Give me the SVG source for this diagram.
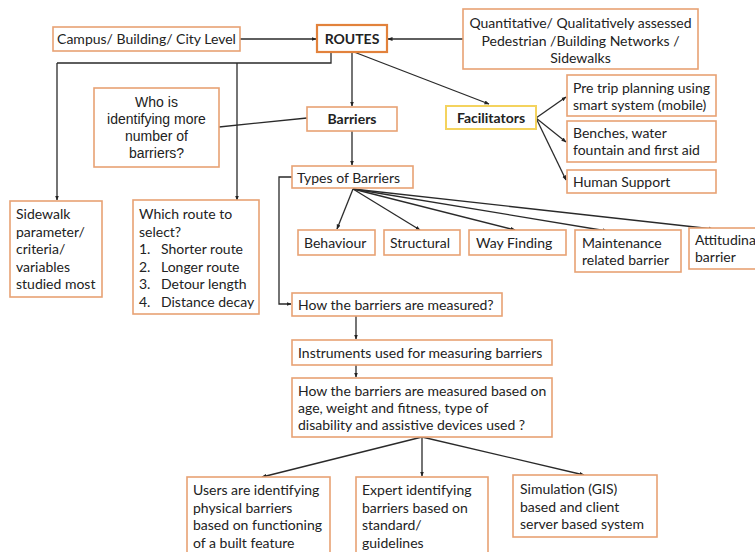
<svg xmlns="http://www.w3.org/2000/svg" width="755" height="552" viewBox="0 0 755 552">
<defs>
<marker id="ah" viewBox="0 0 10 10" refX="9" refY="5" markerWidth="5" markerHeight="5" orient="auto" markerUnits="userSpaceOnUse">
<path d="M0,1 L10,5 L0,9 z" fill="#222"/>
</marker>
<style>
.box{fill:#fff;stroke:#e8a274;stroke-width:1.6}
.rt{fill:#fff;stroke:#e2823c;stroke-width:2.2}
.fac{fill:#fff;stroke:#f4d35e;stroke-width:2}
.t{font-family:Lato,"Liberation Sans",sans-serif;font-size:14px;fill:#222}
.b{font-family:Lato,"Liberation Sans",sans-serif;font-size:14px;font-weight:bold;fill:#222}
.a{font-family:"Liberation Sans",Arial,sans-serif;font-size:14px;fill:#222}
.c{fill:none;stroke:#2a2a2a;stroke-width:1.3}
.ca{fill:none;stroke:#2a2a2a;stroke-width:1.3;marker-end:url(#ah)}
</style>
</defs>
<rect width="755" height="552" fill="#fff"/>
<g id="connectors">
<path class="ca" d="M240,39 H316"/>
<path class="ca" d="M463,39 H388"/>
<path class="c" d="M331,52 V63 H57"/>
<path class="ca" d="M57,63 V200"/>
<path class="ca" d="M237,63 V200"/>
<path class="ca" d="M352,52 V106"/>
<path class="ca" d="M354,52 L489,104"/>
<path class="c" d="M219,127 L307,118"/>
<path class="ca" d="M536,118 L566,97"/>
<path class="ca" d="M536,118 L566,142"/>
<path class="ca" d="M536,118 L566,180"/>
<path class="ca" d="M352,131 V165"/>
<path class="ca" d="M292,177 H279 V304 H291"/>
<path class="ca" d="M353,189 L337,229"/>
<path class="ca" d="M353,189 L420,230"/>
<path class="ca" d="M353,189 L515,230"/>
<path class="ca" d="M353,189 L607,231"/>
<path class="ca" d="M353,189 L713,229"/>
<path class="ca" d="M356,316 V339"/>
<path class="ca" d="M356,365 V377"/>
<path class="ca" d="M422,437 L262,477"/>
<path class="ca" d="M422,437 V476"/>
<path class="ca" d="M422,437 L584,475"/>
</g>
<g id="campus"><rect class="box" x="53" y="27" width="187" height="24"/><text class="t" x="146.5" y="44" text-anchor="middle">Campus/ Building/ City Level</text></g>
<g id="routes"><rect class="rt" x="317" y="25" width="70" height="27"/><text class="b" x="352" y="44" text-anchor="middle" font-size="15.5">ROUTES</text></g>
<g id="quant"><rect class="box" x="463" y="9" width="235" height="60"/>
<text class="t" x="580.5" y="28" text-anchor="middle">Quantitative/ Qualitatively assessed</text>
<text class="t" x="580.5" y="45.5" text-anchor="middle">Pedestrian /Building Networks /</text>
<text class="t" x="580.5" y="62.5" text-anchor="middle">Sidewalks</text></g>
<g id="who"><rect class="box" x="94" y="88" width="125" height="79"/>
<text class="a" x="156.5" y="107" text-anchor="middle">Who is</text>
<text class="a" x="156.5" y="124" text-anchor="middle">identifying more</text>
<text class="a" x="156.5" y="141" text-anchor="middle">number of</text>
<text class="a" x="156.5" y="158" text-anchor="middle">barriers?</text></g>
<g id="barriers"><rect class="box" x="307" y="107" width="90" height="24"/><text class="b" x="352" y="124" text-anchor="middle">Barriers</text></g>
<g id="facilitators"><rect class="fac" x="446" y="106" width="90" height="23"/><text class="b" x="491" y="123" text-anchor="middle">Facilitators</text></g>
<g id="pretrip"><rect class="box" x="567" y="75" width="149" height="41"/>
<text class="t" x="573" y="93">Pre trip planning using</text>
<text class="t" x="573" y="110">smart system (mobile)</text></g>
<g id="benches"><rect class="box" x="567" y="121" width="149" height="41"/>
<text class="t" x="573" y="138">Benches, water</text>
<text class="t" x="573" y="155">fountain and first aid</text></g>
<g id="human"><rect class="box" x="567" y="170" width="149" height="23"/>
<text class="t" x="573" y="187">Human Support</text></g>
<g id="types"><rect class="box" x="292" y="166" width="121" height="22"/>
<text class="t" x="297" y="182.5">Types of Barriers</text></g>
<g id="sidewalk"><rect class="box" x="10" y="201" width="92" height="96"/>
<text class="t" x="16" y="219">Sidewalk</text>
<text class="t" x="16" y="236.5">parameter/</text>
<text class="t" x="16" y="254">criteria/</text>
<text class="t" x="16" y="271.5">variables</text>
<text class="t" x="16" y="289">studied most</text></g>
<g id="which"><rect class="box" x="133" y="200" width="126" height="114"/>
<text class="t" x="139" y="219">Which route to</text>
<text class="t" x="139" y="236.5">select?</text>
<text class="t" x="139" y="254">1.</text><text class="t" x="161" y="254">Shorter route</text>
<text class="t" x="139" y="271.5">2.</text><text class="t" x="161" y="271.5">Longer route</text>
<text class="t" x="139" y="289">3.</text><text class="t" x="161" y="289">Detour length</text>
<text class="t" x="139" y="306.5">4.</text><text class="t" x="161" y="306.5">Distance decay</text></g>
<g id="behaviour"><rect class="box" x="298" y="230" width="77" height="25"/><text class="t" x="304" y="248">Behaviour</text></g>
<g id="structural"><rect class="box" x="384" y="230" width="76" height="25"/><text class="t" x="390" y="248">Structural</text></g>
<g id="wayfinding"><rect class="box" x="469" y="230" width="97" height="25"/><text class="t" x="476" y="248">Way Finding</text></g>
<g id="maintenance"><rect class="box" x="575" y="230" width="106" height="42"/>
<text class="t" x="582" y="248">Maintenance</text>
<text class="t" x="582" y="264.5">related barrier</text></g>
<g id="attitudinal"><rect class="box" x="689" y="228" width="80" height="41"/>
<text class="t" x="695" y="245">Attitudina</text>
<text class="t" x="695" y="262">barrier</text></g>
<g id="howmeasured"><rect class="box" x="292" y="293" width="210" height="23"/>
<text class="t" x="298" y="310">How the barriers are measured?</text></g>
<g id="instruments"><rect class="box" x="292" y="340" width="260" height="25"/>
<text class="t" x="298" y="357.5">Instruments used for measuring barriers</text></g>
<g id="howbased"><rect class="box" x="292" y="378" width="260" height="59"/>
<text class="t" x="298" y="396">How the barriers are measured based on</text>
<text class="t" x="298" y="413">age, weight and fitness, type of</text>
<text class="t" x="298" y="430">disability and assistive devices used ?</text></g>
<g id="users"><rect class="box" x="187" y="477" width="143" height="85"/>
<text class="t" x="193" y="495">Users are identifying</text>
<text class="t" x="193" y="512.5">physical barriers</text>
<text class="t" x="193" y="530">based on functioning</text>
<text class="t" x="193" y="547.5">of a built feature</text></g>
<g id="expert"><rect class="box" x="356" y="477" width="132" height="85"/>
<text class="t" x="362" y="495">Expert identifying</text>
<text class="t" x="362" y="512.5">barriers based on</text>
<text class="t" x="362" y="530">standard/</text>
<text class="t" x="362" y="547.5">guidelines</text></g>
<g id="simulation"><rect class="box" x="513" y="475" width="144" height="62"/>
<text class="t" x="520" y="494">Simulation (GIS)</text>
<text class="t" x="520" y="511.5">based and client</text>
<text class="t" x="520" y="529">server based system</text></g>
</svg>
